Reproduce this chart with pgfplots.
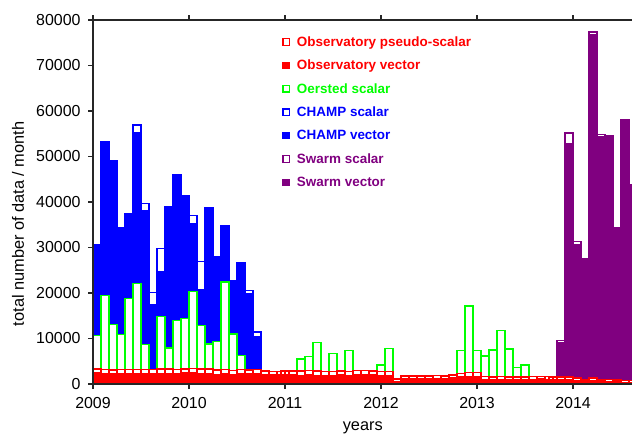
\documentclass[border=0pt]{standalone}
\usepackage{fontspec}
\setmainfont{Liberation Sans}
\usepackage{pgfplots}
\pgfplotsset{compat=1.18}
\definecolor{obsred}{RGB}{255,0,0}
\definecolor{oegreen}{RGB}{0,255,0}
\definecolor{chblue}{RGB}{0,0,255}
\definecolor{swpurple}{RGB}{128,0,128}
\pgfplotsset{mybar/.style={ybar, bar width=0.083333, bar shift=0pt, line width=1.4bp, forget plot}}
\begin{document}
\begin{tikzpicture}
\begin{axis}[
  at={(93bp,52bp)}, anchor=south west,
  scale only axis, width=547.2bp, height=364bp,
  xmin=2009, xmax=2014.7, ymin=0, ymax=80000,
  xtick={2009,2010,2011,2012,2013,2014},
  ytick={0,10000,20000,30000,40000,50000,60000,70000,80000},
  /pgf/number format/1000 sep={},
  /pgf/number format/assume math mode=true,
  scaled y ticks=false,
  tick align=outside, major tick length=5bp,
  ytick pos=left,
  tick label style={font=\fontsize{16}{16}\selectfont},
  xticklabel style={yshift=-5bp},
  yticklabel style={xshift=-4bp},
  label style={font=\fontsize{16.4}{16.4}\selectfont},
  xlabel={years}, ylabel={total number of data / month},
  xlabel style={at={(axis description cs:0.493,-0.121)}, anchor=center},
  ylabel style={at={(axis description cs:-0.137,0.44)}, anchor=center},
  axis on top,
  axis line style={black!85, line width=1.1bp},
  every tick/.style={black!85, line width=1.1bp},
  legend image code/.code={\draw[#1, line width=1.3bp] (0bp,-3.2bp) rectangle (6.5bp,3.2bp);},
  legend cell align=left,
  legend style={at={(axis description cs:0.3454,0.9615)}, anchor=north west, draw=none, fill=none, inner sep=0pt, font=\bfseries\fontsize{13.5}{14.5}\selectfont, row sep=7.8bp, /tikz/every odd column/.append style={column sep=5bp}},
]
% Swarm scalar (total)
\addplot[mybar, draw=swpurple, fill=white] coordinates {
(2013.875,9500) (2013.958,55200) (2014.042,31300) (2014.208,77400) (2014.292,54900)};
% Swarm vector
\addplot[mybar, draw=swpurple, fill=swpurple] coordinates {
(2013.875,9000) (2013.958,52900) (2014.042,30700) (2014.125,27600) (2014.208,76800)
(2014.292,54400) (2014.375,54500) (2014.458,34400) (2014.542,58000) (2014.625,43700)};
% CHAMP scalar (total)
\addplot[mybar, draw=chblue, fill=white] coordinates {
(2009.458,56900) (2009.542,39700) (2009.625,20100) (2009.708,29800)
(2010.042,37000) (2010.125,26900) (2010.625,20500) (2010.708,11400)};
% CHAMP vector
\addplot[mybar, draw=chblue, fill=chblue] coordinates {
(2009.042,30550) (2009.125,53260) (2009.208,49000) (2009.292,34400) (2009.375,37400)
(2009.458,55300) (2009.542,38100) (2009.625,17500) (2009.708,24700) (2009.792,39000)
(2009.875,45900) (2009.958,41400) (2010.042,35300) (2010.125,20700) (2010.208,38800)
(2010.292,28000) (2010.375,34700) (2010.458,22600) (2010.542,26700) (2010.625,19800)
(2010.708,10500)};
% Oersted scalar
\addplot[mybar, draw=oegreen, fill=white] coordinates {
(2009.042,10700) (2009.125,19400) (2009.208,13100) (2009.292,10900) (2009.375,18800)
(2009.458,22100) (2009.542,8700) (2009.708,14800) (2009.792,7900) (2009.875,14000)
(2009.958,14400) (2010.042,20300) (2010.125,12800) (2010.208,8800) (2010.292,9300)
(2010.375,22400) (2010.458,11000) (2010.542,6300)
(2011.167,5500) (2011.250,6000) (2011.333,9100) (2011.500,6700) (2011.667,7400)
(2012.000,4200) (2012.083,7800)
(2012.833,7300) (2012.917,17100) (2013.000,7300) (2013.083,6150) (2013.167,7500)
(2013.250,11700) (2013.333,7700) (2013.417,3650) (2013.500,4150)};
% Observatory pseudo-scalar (total)
\addplot[mybar, draw=obsred, fill=white] coordinates {
(2009.042,3300) (2009.125,3200) (2009.208,3100) (2009.292,3200) (2009.375,3200)
(2009.458,3200) (2009.542,3200) (2009.625,3200) (2009.708,3300) (2009.792,3300)
(2009.875,3200) (2009.958,3300) (2010.042,3400) (2010.125,3300) (2010.208,3300)
(2010.292,3100) (2010.375,3200) (2010.458,3000) (2010.542,3200) (2010.625,3100)
(2010.708,3200) (2010.792,2900) (2010.875,2800) (2010.958,2800)
(2011.000,2900) (2011.083,2900) (2011.167,2900) (2011.250,3000) (2011.333,2900)
(2011.417,2800) (2011.500,2800) (2011.583,2900) (2011.667,2800) (2011.750,3000)
(2011.833,3000) (2011.917,2900) (2012.000,2800) (2012.083,2700) (2012.167,1100)
(2012.250,1800) (2012.333,1800) (2012.417,1800) (2012.500,1800) (2012.583,1900)
(2012.667,1800) (2012.750,2000) (2012.833,2300) (2012.917,2500) (2013.000,2500)
(2013.083,1600) (2013.167,1500) (2013.250,1600) (2013.333,1500) (2013.417,1500)
(2013.500,1500) (2013.583,1600) (2013.667,1700) (2013.750,1600)
(2013.792,1500) (2013.875,1500) (2013.958,1500) (2014.042,1300) (2014.125,900)
(2014.208,1300) (2014.292,900) (2014.375,1000) (2014.458,900) (2014.542,800)
(2014.625,800)};
% Observatory vector
\addplot[mybar, draw=obsred, fill=obsred] coordinates {
(2009.042,2400) (2009.125,2300) (2009.208,2200) (2009.292,2300) (2009.375,2300)
(2009.458,2300) (2009.542,2300) (2009.625,2300) (2009.708,2300) (2009.792,2300)
(2009.875,2300) (2009.958,2400) (2010.042,2400) (2010.125,2300) (2010.208,2200)
(2010.292,2100) (2010.375,2300) (2010.458,2100) (2010.542,2300) (2010.625,2200)
(2010.708,2300) (2010.792,2100) (2010.875,2000) (2010.958,2100)
(2011.000,2000) (2011.083,2000) (2011.167,1900) (2011.250,2000) (2011.333,1900)
(2011.417,1900) (2011.500,1900) (2011.583,2000) (2011.667,1900) (2011.750,2100)
(2011.833,2100) (2011.917,2000) (2012.000,1900) (2012.083,1800) (2012.167,600)
(2012.250,1100) (2012.333,1100) (2012.417,1100) (2012.500,1100) (2012.583,1200)
(2012.667,1100) (2012.750,1300) (2012.833,1600) (2012.917,1700) (2013.000,1700)
(2013.083,1000) (2013.167,900) (2013.250,1000) (2013.333,900) (2013.417,900)
(2013.500,900) (2013.583,1000) (2013.667,1100) (2013.750,1000)
(2013.792,1000) (2013.875,1000) (2013.958,1000) (2014.042,800) (2014.125,400)
(2014.208,800) (2014.292,400) (2014.375,500) (2014.458,400) (2014.542,300)
(2014.625,300)};
% legend
\addlegendimage{draw=obsred, fill=white}
\addlegendentry{\textcolor{obsred}{Observatory pseudo-scalar}\strut}
\addlegendimage{draw=obsred, fill=obsred}
\addlegendentry{\textcolor{obsred}{Observatory vector}\strut}
\addlegendimage{draw=oegreen, fill=white}
\addlegendentry{\textcolor{oegreen}{Oersted scalar}\strut}
\addlegendimage{draw=chblue, fill=white}
\addlegendentry{\textcolor{chblue}{CHAMP scalar}\strut}
\addlegendimage{draw=chblue, fill=chblue}
\addlegendentry{\textcolor{chblue}{CHAMP vector}\strut}
\addlegendimage{draw=swpurple, fill=white}
\addlegendentry{\textcolor{swpurple}{Swarm scalar}\strut}
\addlegendimage{draw=swpurple, fill=swpurple}
\addlegendentry{\textcolor{swpurple}{Swarm vector}\strut}
\end{axis}
\pgfresetboundingbox
\useasboundingbox (0,0) rectangle (632bp,436bp);
\end{tikzpicture}
\end{document}
